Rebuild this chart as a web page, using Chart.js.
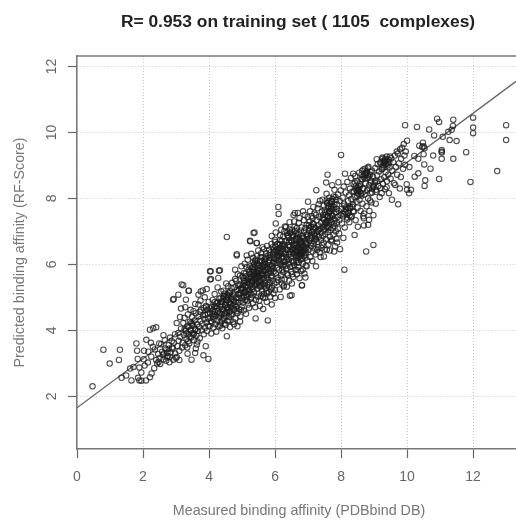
<!DOCTYPE html>
<html>
<head>
<meta charset="utf-8">
<title>RF-Score training set</title>
<script src="https://cdn.jsdelivr.net/npm/chart.js@4"></script>
<style>
  html, body { margin: 0; padding: 0; background: #fff; }
  canvas { display: block; filter: blur(0.5px); }
</style>
</head>
<body>
<canvas id="rfScoreChart" width="516" height="520"></canvas>
<script>
const chartTitle = 'R= 0.953 on training set ( 1105  complexes)';
const xAxisTitle = 'Measured binding affinity (PDBbind DB)';
const yAxisTitle = 'Predicted binding affinity (RF-Score)';
const xTickValues = [0, 2, 4, 6, 8, 10, 12];
const yTickValues = [2, 4, 6, 8, 10, 12];
const fitLineX = [0, 13.3];
const fitLineY = [1.65, 11.55];

// [measured, predicted], one band at a time
const belowThree = [
  [0.47,2.30],[0.80,3.41],[0.99,2.99],[1.30,3.41],[1.27,3.10],[1.35,2.56],[1.49,2.63],[1.61,2.84],[1.71,2.89],[1.89,2.87],
  [1.65,2.48],[1.85,2.56],[1.89,2.48],[1.95,2.47],[2.09,2.48],[2.21,2.58],[2.26,2.69],[1.80,3.60],[1.82,3.38],[2.03,3.38],
  [1.84,3.13],[2.10,3.71],[2.21,4.02],[2.31,4.06],[2.40,4.09],[2.24,3.62],[2.62,3.85],[2.49,3.60],[1.95,2.72],[2.05,2.93],
  [2.15,3.02],[2.02,3.12],[2.25,3.20],[2.34,2.85],[2.40,3.10],[2.46,3.28],[2.52,2.98],[2.58,3.35],[2.62,3.12],[2.70,3.42],
  [2.75,3.22],[2.78,3.55],[2.84,3.33],[2.88,3.48],[2.93,3.62],[2.97,3.30],[2.36,3.42],[2.16,3.35],[2.30,3.50],[2.55,3.58],
  [2.66,3.70],[2.43,2.99],[2.47,3.04],[2.82,3.78],[2.80,3.03],[2.92,3.11],[2.87,3.67],[2.93,4.95],[2.91,4.93],[2.97,3.88],
  [2.72,3.18],[2.64,3.30],[2.50,3.16],[2.90,3.44]
];
const threeToFour = [
  [3.00,3.16],[3.02,3.19],[3.22,5.37],[3.38,5.20],[3.07,5.08],[3.30,4.93],[3.15,4.66],[3.68,5.08],[3.81,5.21],[4.03,5.54],
  [3.07,3.92],[3.02,4.22],[3.22,4.22],[3.37,3.67],[3.63,3.57],[3.58,3.31],[3.83,3.24],[3.98,3.13],[3.47,3.11],[3.35,3.29],
  [3.60,3.45],[3.53,4.58],[3.68,4.78],[3.75,5.18],[3.93,5.25],[3.39,5.20],[3.17,5.39],[3.05,3.52],[3.08,3.68],[3.10,3.38],
  [3.13,3.80],[3.15,4.05],[3.18,3.48],[3.20,3.62],[3.24,3.86],[3.26,4.38],[3.28,3.55],[3.30,3.98],[3.32,3.74],[3.34,4.12],
  [3.36,4.48],[3.38,3.88],[3.40,3.60],[3.42,4.26],[3.44,4.02],[3.46,3.78],[3.48,4.40],[3.50,3.92],[3.52,4.14],[3.54,3.70],
  [3.56,4.30],[3.58,4.04],[3.60,4.52],[3.62,3.84],[3.64,4.18],[3.66,3.98],[3.68,4.42],[3.70,4.10],[3.72,3.76],[3.74,4.28],
  [3.76,4.62],[3.78,4.00],[3.80,4.20],[3.82,4.46],[3.84,3.88],[3.86,4.34],[3.88,4.08],[3.90,4.70],[3.92,4.24],[3.94,3.98],
  [3.96,4.50],[3.98,4.14],[3.99,4.86],[3.12,4.40],[3.44,4.62],[3.58,4.80],[3.74,4.90],[3.87,5.00],[3.28,4.70],[3.10,3.10],
  [3.65,3.66],[3.90,3.52],[3.72,4.56],[3.84,4.68],[3.46,4.22],[3.34,3.48],[3.54,3.90]
];
const fourToFive = [
  [4.03,5.79],[4.30,5.81],[4.05,5.79],[4.33,5.82],[4.06,5.56],[4.28,5.59],[4.54,6.83],[4.84,6.31],[4.84,6.27],[4.79,5.84],
  [4.54,3.82],[4.94,4.27],[4.02,4.12],[4.04,4.38],[4.05,4.66],[4.07,3.90],[4.08,4.24],[4.10,4.50],[4.11,4.92],[4.13,4.08],
  [4.14,4.34],[4.16,4.72],[4.17,5.10],[4.19,4.18],[4.20,4.44],[4.22,3.96],[4.23,4.82],[4.25,4.30],[4.26,5.30],[4.28,4.58],
  [4.29,4.12],[4.31,4.96],[4.32,4.40],[4.34,4.70],[4.35,4.24],[4.37,5.18],[4.38,4.50],[4.40,4.06],[4.41,4.86],[4.43,4.34],
  [4.44,4.62],[4.46,5.02],[4.47,4.20],[4.49,4.76],[4.50,4.44],[4.52,5.42],[4.53,4.56],[4.55,4.92],[4.56,4.28],[4.58,4.70],
  [4.59,5.14],[4.61,4.40],[4.62,4.82],[4.64,4.10],[4.65,4.58],[4.67,5.00],[4.68,5.28],[4.70,4.48],[4.71,4.74],[4.73,4.26],
  [4.74,5.08],[4.76,4.88],[4.77,4.62],[4.79,5.56],[4.80,4.36],[4.82,4.98],[4.83,4.72],[4.85,5.22],[4.86,4.52],[4.88,5.36],
  [4.89,4.84],[4.91,4.64],[4.92,5.06],[4.94,5.66],[4.95,4.42],[4.97,5.24],[4.98,4.90],[4.99,4.70],[4.12,4.60],[4.18,4.86],
  [4.24,4.66],[4.30,4.48],[4.36,4.78],[4.42,4.96],[4.48,4.52],[4.54,4.68],[4.60,4.54],[4.66,4.78],[4.72,4.92],[4.78,4.78],
  [4.84,4.58],[4.90,4.98],[4.96,5.14],[4.44,5.20],[4.58,5.34],[4.70,5.44],[4.82,5.50],[4.92,5.40],[4.62,4.30],[4.76,4.18],
  [4.86,4.12],[4.34,4.14],[4.50,4.16],[4.66,4.48],[4.74,4.66],[4.81,4.86],[4.88,5.10],[4.96,4.62],[4.52,4.84],[4.40,4.64],
  [4.46,4.38],[4.56,5.06],[4.64,5.18],[4.77,5.30],[4.87,5.70],[4.98,5.94],[4.15,4.48],[4.27,4.84],[4.39,4.30],[4.33,4.52]
];
const fiveToSix = [
  [5.14,6.27],[5.35,6.95],[5.25,6.70],[5.44,6.64],[5.38,6.97],[5.24,6.72],[5.45,6.65],[5.41,4.36],[5.78,4.30],[5.64,4.65],
  [5.90,4.78],[5.19,4.78],[5.02,4.84],[5.03,5.26],[5.04,5.58],[5.05,4.60],[5.06,5.04],[5.07,5.44],[5.08,6.02],[5.09,4.92],
  [5.10,5.18],[5.11,5.72],[5.12,4.50],[5.13,5.34],[5.15,5.00],[5.16,5.52],[5.17,6.14],[5.18,5.10],[5.20,5.84],[5.21,4.68],
  [5.22,5.40],[5.23,5.22],[5.26,5.62],[5.27,4.96],[5.28,6.32],[5.29,5.30],[5.30,5.78],[5.31,5.06],[5.32,5.50],[5.33,4.82],
  [5.34,5.92],[5.36,5.16],[5.37,5.68],[5.39,5.36],[5.40,6.10],[5.42,4.92],[5.43,5.56],[5.46,5.26],[5.47,5.80],[5.48,5.02],
  [5.49,6.42],[5.50,5.46],[5.51,5.12],[5.52,5.98],[5.53,5.64],[5.54,4.74],[5.55,5.32],[5.56,6.22],[5.57,5.50],[5.58,5.04],
  [5.59,5.86],[5.60,5.20],[5.61,5.72],[5.62,6.52],[5.63,5.40],[5.65,5.96],[5.66,5.10],[5.67,5.58],[5.68,6.14],[5.69,4.98],
  [5.70,5.48],[5.71,5.82],[5.72,5.28],[5.73,6.34],[5.74,5.66],[5.75,4.86],[5.76,5.92],[5.77,5.38],[5.79,6.06],[5.80,5.54],
  [5.81,5.16],[5.82,6.44],[5.83,5.74],[5.84,5.44],[5.85,6.20],[5.86,5.02],[5.87,5.86],[5.88,5.60],[5.89,6.62],[5.91,5.30],
  [5.92,5.96],[5.93,5.50],[5.94,6.30],[5.95,5.12],[5.96,5.78],[5.97,6.08],[5.98,5.42],[5.99,6.74],[6.00,4.98],[5.02,5.36],
  [5.06,5.74],[5.10,5.50],[5.14,5.92],[5.18,5.30],[5.22,5.76],[5.26,5.12],[5.30,5.42],[5.34,5.26],[5.38,5.52],[5.42,5.76],
  [5.46,6.02],[5.50,5.62],[5.54,5.88],[5.58,5.34],[5.62,5.56],[5.66,5.80],[5.70,6.02],[5.74,5.18],[5.78,5.72],[5.82,5.32],
  [5.86,6.36],[5.90,5.66],[5.94,5.88],[5.98,6.18],[5.12,5.64],[5.24,5.94],[5.36,5.82],[5.48,5.70],[5.60,6.10],[5.72,6.16],
  [5.84,5.98],[5.96,6.44],[5.08,5.14],[5.20,5.58],[5.32,5.68],[5.44,5.42],[5.56,5.72],[5.68,5.36],[5.80,6.28],[5.92,6.20],
  [5.16,4.88],[5.28,5.00],[5.40,4.70],[5.52,4.90],[5.64,5.00],[5.76,5.12],[5.88,5.24],[6.00,5.22],[5.34,6.20],[5.58,6.34],
  [5.76,6.56],[5.90,6.86],[5.46,6.26],[5.66,6.46],[5.28,5.48],[5.40,5.60],[5.52,5.36],[5.64,5.68],[5.76,5.60],[5.88,5.78]
];
const sixToSeven = [
  [6.10,7.74],[6.11,7.53],[6.02,7.24],[6.02,6.97],[6.19,7.05],[6.33,7.13],[6.30,7.15],[6.26,5.33],[6.17,5.01],[6.45,5.05],
  [6.27,5.36],[6.51,5.42],[6.81,5.36],[6.50,5.06],[6.82,5.37],[6.69,7.56],[6.56,7.50],[6.60,7.56],[6.85,7.61],[6.96,5.94],
  [6.02,5.72],[6.03,6.14],[6.04,5.46],[6.05,6.38],[6.06,5.90],[6.07,6.62],[6.08,5.60],[6.09,6.26],[6.12,5.84],[6.13,6.48],
  [6.14,5.24],[6.15,6.02],[6.16,6.74],[6.18,5.66],[6.20,6.20],[6.21,5.42],[6.22,6.56],[6.23,5.94],[6.24,6.84],[6.25,5.76],
  [6.28,6.32],[6.29,5.54],[6.31,6.08],[6.32,6.70],[6.34,5.86],[6.35,6.44],[6.36,5.32],[6.37,6.96],[6.38,6.16],[6.39,5.68],
  [6.40,6.58],[6.41,6.02],[6.42,6.30],[6.43,5.50],[6.44,7.06],[6.46,5.92],[6.47,6.74],[6.48,6.22],[6.49,5.78],[6.52,6.46],
  [6.53,6.10],[6.54,6.88],[6.55,5.62],[6.57,6.34],[6.58,5.98],[6.59,7.14],[6.61,6.60],[6.62,5.84],[6.63,6.24],[6.64,6.94],
  [6.65,6.42],[6.66,5.70],[6.67,6.06],[6.68,6.78],[6.70,6.52],[6.71,5.92],[6.72,7.26],[6.73,6.30],[6.74,5.58],[6.75,6.44],
  [6.76,6.68],[6.77,6.14],[6.78,7.02],[6.79,5.80],[6.80,6.38],[6.83,6.86],[6.84,6.02],[6.86,6.56],[6.87,7.34],[6.88,6.26],
  [6.89,5.72],[6.90,6.72],[6.91,6.48],[6.92,7.10],[6.93,5.96],[6.94,6.36],[6.95,6.90],[6.97,6.62],[6.98,6.12],[6.99,7.44],
  [6.06,6.04],[6.10,5.52],[6.14,6.30],[6.18,6.00],[6.22,6.24],[6.26,5.98],[6.30,6.52],[6.34,6.22],[6.38,6.44],[6.42,6.68],
  [6.46,6.38],[6.50,6.66],[6.54,6.32],[6.58,6.72],[6.62,6.48],[6.66,6.84],[6.70,6.20],[6.74,6.94],[6.78,6.58],[6.82,6.18],
  [6.86,6.80],[6.90,6.30],[6.94,6.64],[6.98,6.84],[6.08,6.46],[6.16,6.40],[6.24,6.62],[6.32,6.34],[6.40,6.86],[6.48,6.96],
  [6.56,6.06],[6.64,6.12],[6.72,6.62],[6.80,7.12],[6.88,7.00],[6.96,7.20],[6.20,5.54],[6.36,5.72],[6.52,5.70],[6.68,5.82],
  [6.84,5.84],[6.92,5.60],[6.15,6.88],[6.28,7.00],[6.44,7.28],[6.58,7.30],[6.74,7.40],[6.90,7.50],[6.25,6.08],[6.35,6.12],
  [6.45,6.54],[6.55,6.50],[6.65,6.26],[6.75,6.76],[6.85,6.42],[6.95,6.50],[6.12,6.12],[6.22,5.84],[6.32,5.96],[6.42,6.14],
  [6.52,5.94],[6.62,6.36],[6.72,6.06],[6.82,6.66],[6.92,6.20],[6.75,6.44],[6.76,6.34],[6.70,6.40],[6.80,6.52],[6.78,6.26]
];
const sevenToEight = [
  [7.06,7.61],[7.14,6.39],[7.24,5.94],[7.38,6.22],[7.57,6.44],[7.79,6.39],[7.97,6.46],[7.72,6.75],[7.82,6.55],[7.59,8.72],
  [7.55,8.48],[7.73,8.40],[7.25,8.25],[7.36,7.93],[7.92,8.49],[7.02,6.44],[7.03,7.02],[7.04,6.72],[7.05,7.30],[7.07,6.22],
  [7.08,6.88],[7.09,7.14],[7.10,6.56],[7.11,7.46],[7.12,6.80],[7.13,6.10],[7.15,7.06],[7.16,6.62],[7.17,7.22],[7.18,6.94],
  [7.19,7.54],[7.20,6.48],[7.21,6.78],[7.22,7.10],[7.23,6.30],[7.26,7.34],[7.27,6.90],[7.28,6.68],[7.29,7.70],[7.30,7.02],
  [7.31,6.52],[7.32,7.18],[7.33,6.84],[7.34,7.44],[7.35,6.36],[7.37,7.08],[7.39,6.74],[7.40,7.26],[7.41,6.96],[7.42,7.60],
  [7.43,6.58],[7.44,7.14],[7.45,6.86],[7.46,7.38],[7.47,6.66],[7.48,7.78],[7.49,7.04],[7.50,6.44],[7.51,7.22],[7.52,6.92],
  [7.53,7.50],[7.54,6.76],[7.56,7.12],[7.58,7.86],[7.60,7.32],[7.61,6.98],[7.62,6.60],[7.63,7.56],[7.64,7.20],[7.65,7.92],
  [7.66,6.84],[7.67,7.42],[7.68,7.04],[7.69,7.68],[7.70,6.70],[7.71,7.28],[7.74,7.98],[7.75,7.10],[7.76,7.46],[7.77,6.90],
  [7.78,7.74],[7.80,7.36],[7.81,7.16],[7.83,8.04],[7.84,7.00],[7.85,7.58],[7.86,6.78],[7.87,7.26],[7.88,7.82],[7.89,7.44],
  [7.90,7.08],[7.91,8.12],[7.93,7.62],[7.94,6.94],[7.95,7.34],[7.96,7.92],[7.98,7.50],[7.99,8.24],[7.56,7.94],[7.62,7.76],
  [7.72,7.91],[7.60,7.45],[7.66,7.62],[7.70,7.52],[7.68,7.84],[7.74,7.66],[7.54,7.26],[7.62,7.10],[7.78,7.24],[7.86,7.68],
  [7.50,7.66],[7.44,7.42],[7.34,7.06],[7.24,7.50],[7.14,7.40],[7.08,6.64],[7.18,6.70],[7.28,6.44],[7.40,6.50],[7.48,6.24],
  [7.66,6.42],[7.88,6.66],[7.16,7.74],[7.32,7.82],[7.44,7.96],[7.56,8.14],[7.80,8.26],[7.00,7.90]
];
const eightToNine = [
  [8.00,9.32],[8.12,8.75],[8.37,8.75],[8.10,5.84],[8.07,6.80],[8.41,6.89],[8.51,7.14],[8.69,7.18],[8.69,7.40],[8.85,7.35],
  [8.98,7.49],[8.98,6.59],[8.76,6.39],[8.67,7.46],[8.82,7.20],[8.88,7.94],[8.02,7.68],[8.03,7.24],[8.05,8.02],[8.06,7.46],
  [8.08,8.36],[8.09,7.84],[8.11,7.12],[8.13,7.58],[8.14,8.18],[8.16,7.74],[8.18,7.36],[8.19,8.50],[8.21,7.92],[8.22,7.56],
  [8.24,8.10],[8.25,7.28],[8.27,8.30],[8.28,7.70],[8.30,8.62],[8.31,7.98],[8.33,7.46],[8.34,8.20],[8.36,7.82],[8.38,8.44],
  [8.39,7.60],[8.41,8.04],[8.43,8.68],[8.44,7.34],[8.46,8.26],[8.47,7.90],[8.49,8.52],[8.50,7.72],[8.52,8.14],[8.53,8.26],
  [8.55,8.78],[8.56,7.96],[8.58,8.38],[8.59,7.62],[8.61,8.58],[8.62,8.08],[8.64,8.84],[8.65,7.84],[8.67,8.30],[8.68,8.66],
  [8.70,7.54],[8.71,8.12],[8.73,8.90],[8.74,8.46],[8.76,8.77],[8.77,7.76],[8.79,8.24],[8.80,8.62],[8.82,8.00],[8.83,8.96],
  [8.85,8.40],[8.86,7.62],[8.88,8.72],[8.89,8.16],[8.91,8.54],[8.92,7.88],[8.94,8.84],[8.95,8.30],[8.97,8.66],[8.98,8.36],
  [8.72,8.74],[8.78,8.82],[8.74,8.70],[8.81,8.72],[8.50,8.32],[8.56,8.20],[8.48,8.18],[8.54,8.36],[8.22,7.70],[8.17,7.52],
  [8.26,7.48],[8.34,7.74]
];
const aboveNine = [
  [9.94,10.22],[10.30,10.17],[10.67,10.09],[10.91,10.42],[10.97,10.32],[11.40,10.39],[11.39,10.20],[11.35,10.08],[11.25,10.02],[12.00,10.45],
  [12.00,10.15],[12.00,9.98],[13.00,10.22],[13.00,9.77],[12.73,8.83],[11.92,8.50],[11.79,9.40],[11.50,9.74],[11.29,9.77],[11.08,9.87],
  [10.82,9.91],[10.00,9.75],[9.90,9.65],[10.48,9.69],[10.37,9.60],[10.53,9.52],[10.50,9.58],[10.46,9.56],[11.05,9.47],[11.05,9.42],
  [11.05,9.39],[11.05,9.20],[11.40,9.20],[10.79,9.30],[10.50,9.34],[10.22,9.29],[10.34,9.20],[10.52,9.03],[10.71,8.90],[10.34,8.76],
  [10.23,8.66],[10.55,8.55],[10.53,8.38],[10.97,8.59],[9.99,8.43],[10.12,8.26],[10.00,8.26],[10.06,8.16],[9.73,7.82],[9.54,7.96],
  [9.08,9.19],[9.48,9.27],[9.69,9.42],[9.79,9.49],[9.94,9.02],[10.07,8.95],[9.81,8.65],[9.64,8.41],[9.38,8.34],[9.23,8.16],
  [9.05,7.84],[9.33,9.12],[9.02,8.48],[9.04,8.92],[9.06,8.20],[9.09,8.70],[9.11,9.04],[9.13,8.38],[9.15,8.82],[9.17,8.04],
  [9.19,9.10],[9.21,8.58],[9.25,8.90],[9.27,8.44],[9.29,9.00],[9.31,8.64],[9.33,8.28],[9.35,8.80],[9.37,9.16],[9.39,8.52],
  [9.41,9.06],[9.43,8.72],[9.45,8.16],[9.47,8.94],[9.50,8.60],[9.52,9.22],[9.55,8.84],[9.58,9.10],[9.60,8.46],[9.63,9.30],
  [9.66,8.96],[9.70,8.72],[9.72,9.36],[9.75,9.06],[9.78,8.30],[9.82,9.20],[9.85,9.54],[9.88,8.90],[9.92,9.30],[9.96,9.42],
  [9.30,9.08],[9.34,9.20],[9.28,9.14],[9.36,9.04],[9.26,9.20],[9.44,9.18],[9.10,8.52],[9.20,8.32]
];
// the dark knots along the ridge, where circles pile on top of each other
const darkKnots = [
  [4.03,4.53],[3.95,4.62],[4.12,4.41],[3.88,4.47],[4.09,4.70],[4.18,4.56],[3.97,4.36],[4.21,4.74],[4.06,4.28],[3.91,4.74],
  [4.53,4.93],[4.44,5.04],[4.61,4.86],[4.37,4.87],[4.58,5.07],[4.49,4.77],[4.68,4.95],[4.41,4.72],[4.63,5.12],[4.55,4.63],
  [4.72,5.03],[4.35,4.98],[4.47,5.11],[4.66,4.69],[4.51,5.01],[5.44,5.64],[5.36,5.77],[5.53,5.52],[5.29,5.58],[5.49,5.83],
  [5.41,5.46],[5.60,5.69],[5.33,5.86],[5.57,5.42],[5.25,5.70],[5.47,5.73],[5.38,5.36],[5.64,5.81],[5.51,5.61],[5.31,5.49],
  [5.44,6.04],[5.55,6.11],[5.37,6.00],[5.62,5.93],[5.48,5.94],[5.29,5.90],[5.59,6.21],[5.41,6.14],[5.69,6.08],[5.34,6.08],
  [6.10,6.44],[6.01,6.55],[6.18,6.33],[5.96,6.38],[6.14,6.60],[6.05,6.26],[6.23,6.47],[5.93,6.52],[6.20,6.71],[6.08,6.36],
  [6.27,6.58],[6.12,6.22],[6.00,6.68],[6.17,6.52],[6.03,6.42],[6.75,6.50],[6.66,6.62],[6.83,6.36],[6.61,6.41],[6.79,6.70],
  [6.70,6.30],[6.88,6.53],[6.57,6.58],[6.84,6.78],[6.73,6.22],[6.93,6.66],[6.64,6.74],[6.91,6.43],[6.53,6.43],[6.77,6.47],
  [6.55,6.85],[6.46,6.97],[6.63,6.78],[6.41,6.80],[6.60,7.02],[6.50,6.72],[6.69,6.92],[6.37,6.89],[6.66,7.10],[6.52,7.05],
  [7.12,6.98],[7.03,7.10],[7.21,6.87],[6.98,6.91],[7.18,7.14],[7.08,6.78],[7.27,6.99],[7.02,7.19],[7.24,6.76],[7.14,7.23],
  [7.60,7.45],[7.52,7.58],[7.68,7.34],[7.46,7.50],[7.65,7.60],[7.56,7.28],[7.73,7.48],[7.49,7.35],[7.71,7.70],[7.59,7.17],
  [7.72,7.91],[7.64,8.02],[7.80,7.81],[7.58,7.86],[7.77,8.06],[7.69,7.75],[7.85,7.95],[7.61,7.70],[8.22,7.56],[8.14,7.67],
  [8.30,7.44],[8.08,7.52],[8.27,7.75],[8.18,7.42],[8.36,7.60],[8.10,7.78],[8.53,8.26],[8.45,8.38],[8.61,8.15],[8.39,8.22],
  [8.58,8.43],[8.49,8.07],[8.66,8.30],[8.42,8.48],[8.76,8.77],[8.68,8.88],[8.84,8.66],[8.62,8.72],[8.81,8.92],[8.72,8.60],
  [8.89,8.80],[8.65,8.58],[8.98,8.36],[8.90,8.48],[9.06,8.26],[8.86,8.30],[9.03,8.54],[8.94,8.18],[9.33,9.12],[9.25,9.24],
  [9.41,9.00],[9.20,9.06],[9.38,9.27],[9.29,8.94],[9.46,9.10],[9.23,8.88],[5.05,5.16],[4.98,5.28],[5.13,5.07],[4.92,5.12],
  [5.10,5.34],[5.01,4.97],[5.20,5.22],[4.95,5.37],[5.17,5.45],[5.06,5.51],[5.02,5.63],[5.15,5.21],[5.82,6.12],[5.73,6.24],
  [5.89,5.95],[5.66,6.03],[5.86,6.28],[5.77,5.84],[5.95,6.04],[5.70,5.92],[3.45,3.98],[3.37,4.10],[3.53,3.87],[3.31,3.91],
  [3.49,4.19],[3.41,3.80],[3.58,4.02],[3.26,4.04],[2.74,3.32],[2.67,3.45],[2.81,3.19],[2.60,3.26],[2.78,3.44],[2.70,3.08]
];

const complexPoints = [...belowThree, ...threeToFour, ...fourToFive, ...fiveToSix, ...sixToSeven, ...sevenToEight, ...eightToNine, ...aboveNine, ...darkKnots];

// y tick labels stand on their side and the titles centre on the printed plot, Chart.js won't do that
const sideLabels = {
  id: 'sideLabels',
  afterDraw(chart) {
    const ctx = chart.ctx;
    const area = chart.chartArea;
    const yScale = chart.scales.y;
    ctx.save();
    ctx.strokeStyle = '#777';
    ctx.lineWidth = 1.5;
    ctx.beginPath();
    ctx.moveTo(area.left, area.top);
    ctx.lineTo(area.right, area.top);
    ctx.stroke();

    ctx.fillStyle = '#666';
    ctx.font = '14px "Liberation Sans"';
    ctx.textAlign = 'center';
    ctx.textBaseline = 'middle';
    yTickValues.forEach(v => {
      ctx.save();
      ctx.translate(52.5, yScale.getPixelForValue(v));
      ctx.rotate(-Math.PI / 2);
      ctx.fillText(String(v), 0, 0);
      ctx.restore();
    });

    ctx.fillStyle = '#777';
    ctx.font = '14.3px "Liberation Sans"';
    ctx.fillText(xAxisTitle, 299, 511);

    ctx.fillStyle = '#222';
    ctx.font = 'bold 17.4px "Liberation Sans"';
    ctx.fillText(chartTitle, 298, 22);
    ctx.restore();
  }
};

new Chart('rfScoreChart', {
  type: 'scatter',
  data: {
    datasets: [
      {
        label: 'Complexes',
        data: complexPoints.map(p => ({ x: p[0], y: p[1] })),
        pointStyle: 'circle',
        pointRadius: 2.7,
        pointBorderWidth: 1.1,
        pointBorderColor: 'rgba(30, 30, 30, 0.78)',
        pointBackgroundColor: 'rgba(0, 0, 0, 0)'
      },
      {
        label: 'Fit',
        data: fitLineX.map((x, i) => ({ x: x, y: fitLineY[i] })),
        showLine: true,
        pointRadius: 0,
        borderColor: '#666',
        borderWidth: 1.3
      }
    ]
  },
  options: {
    responsive: false,
    animation: false,
    layout: { autoPadding: false, padding: { top: 56, right: 0, bottom: 0, left: 0 } },
    plugins: {
      legend: { display: false },
      title: { display: false },
      tooltip: { enabled: false }
    },
    scales: {
      x: {
        type: 'linear',
        min: 0,
        max: 13.3,
        afterBuildTicks: s => { s.ticks = xTickValues.map(v => ({ value: v })); },
        afterFit: s => { s.height = 71; s.paddingLeft = 0; s.paddingRight = 0; },
        border: { color: '#777', width: 1.5, dash: [1, 2] },
        grid: { color: '#c8c8c8', tickLength: 9, tickColor: '#666', tickWidth: 1.2, tickBorderDash: [] },
        ticks: { color: '#666', padding: 11, maxRotation: 0, autoSkip: false, font: { family: 'Liberation Sans', size: 14 } }
      },
      y: {
        type: 'linear',
        min: 0.4,
        max: 12.32,
        afterBuildTicks: s => { s.ticks = yTickValues.map(v => ({ value: v })); },
        afterFit: s => { s.width = 77; },
        border: { color: '#777', width: 1.5, dash: [1, 2] },
        grid: { color: '#c8c8c8', tickLength: 9, tickColor: '#666', tickWidth: 1.2, tickBorderDash: [] },
        ticks: { display: false },
        title: { display: true, text: yAxisTitle, color: '#777', padding: { top: 11, bottom: 0 }, font: { family: 'Liberation Sans', size: 14.3 } }
      }
    }
  },
  plugins: [sideLabels]
});
</script>
</body>
</html>
